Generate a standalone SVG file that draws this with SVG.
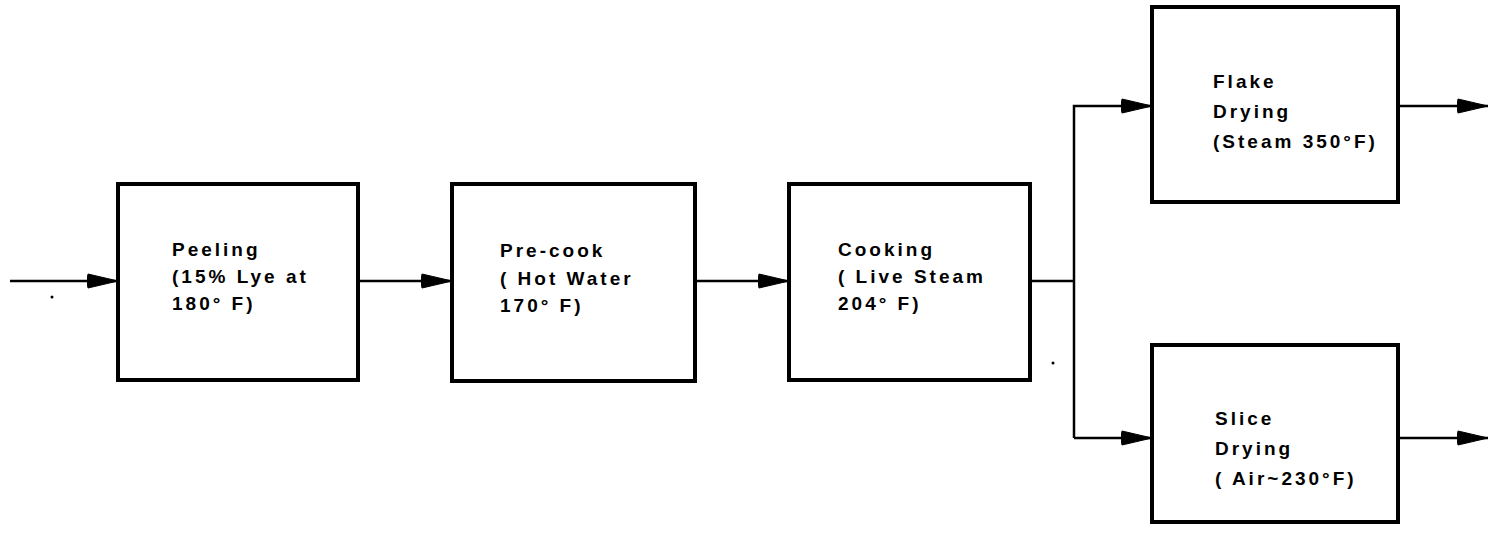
<svg xmlns="http://www.w3.org/2000/svg" width="1488" height="543" viewBox="0 0 1488 543">
<style>
.box{fill:#fff;stroke:#000;stroke-width:4}
.c{fill:none;stroke:#000;stroke-width:2.5}
text{font-family:"Liberation Sans",Arial,sans-serif;font-size:19px;font-weight:bold;letter-spacing:3px;fill:#000}
</style>
<defs>
<marker id="ah" markerWidth="32" markerHeight="18" refX="31" refY="9" orient="auto" markerUnits="userSpaceOnUse">
<path d="M1,2 L31,9 L1,16 Q-1,9 1,2 Z" fill="#000" stroke="#000" stroke-width="1" stroke-linejoin="round"/>
</marker>
</defs>
<rect width="1488" height="543" fill="#fff"/>
<g id="connectors">
<line class="c" x1="10" y1="281" x2="118" y2="281" marker-end="url(#ah)"/>
<line class="c" x1="358" y1="281" x2="452" y2="281" marker-end="url(#ah)"/>
<line class="c" x1="695" y1="281" x2="789" y2="281" marker-end="url(#ah)"/>
<polyline class="c" points="1030,281 1074,281"/>
<polyline class="c" points="1074,438 1074,106 1152,106" marker-end="url(#ah)"/>
<polyline class="c" points="1074,438 1152,438" marker-end="url(#ah)"/>
<line class="c" x1="1398" y1="106" x2="1488" y2="106" marker-end="url(#ah)"/>
<line class="c" x1="1398" y1="438" x2="1488" y2="438" marker-end="url(#ah)"/>
</g>
<g id="peeling">
<rect class="box" x="118" y="184" width="240" height="196"/>
<text x="172" y="256">Peeling</text>
<text x="172" y="283">(15% Lye at</text>
<text x="172" y="310">180° F)</text>
</g>
<g id="precook">
<rect class="box" x="452" y="184" width="243" height="197"/>
<text x="500" y="257">Pre-cook</text>
<text x="500" y="285">( Hot Water</text>
<text x="500" y="312">170° F)</text>
</g>
<g id="cooking">
<rect class="box" x="789" y="184" width="241" height="196"/>
<text x="838" y="256">Cooking</text>
<text x="838" y="283">( Live Steam</text>
<text x="838" y="310">204° F)</text>
</g>
<g id="flake">
<rect class="box" x="1152" y="7" width="246" height="195"/>
<text x="1213" y="88">Flake</text>
<text x="1213" y="118">Drying</text>
<text x="1213" y="148">(Steam 350°F)</text>
</g>
<g id="slice">
<rect class="box" x="1152" y="345" width="246" height="177"/>
<text x="1215" y="425">Slice</text>
<text x="1215" y="455">Drying</text>
<text x="1215" y="485">( Air~230°F)</text>
</g>
<circle cx="52" cy="297" r="1.5" fill="#000"/>
<circle cx="1053" cy="363" r="1.5" fill="#000"/>
</svg>
